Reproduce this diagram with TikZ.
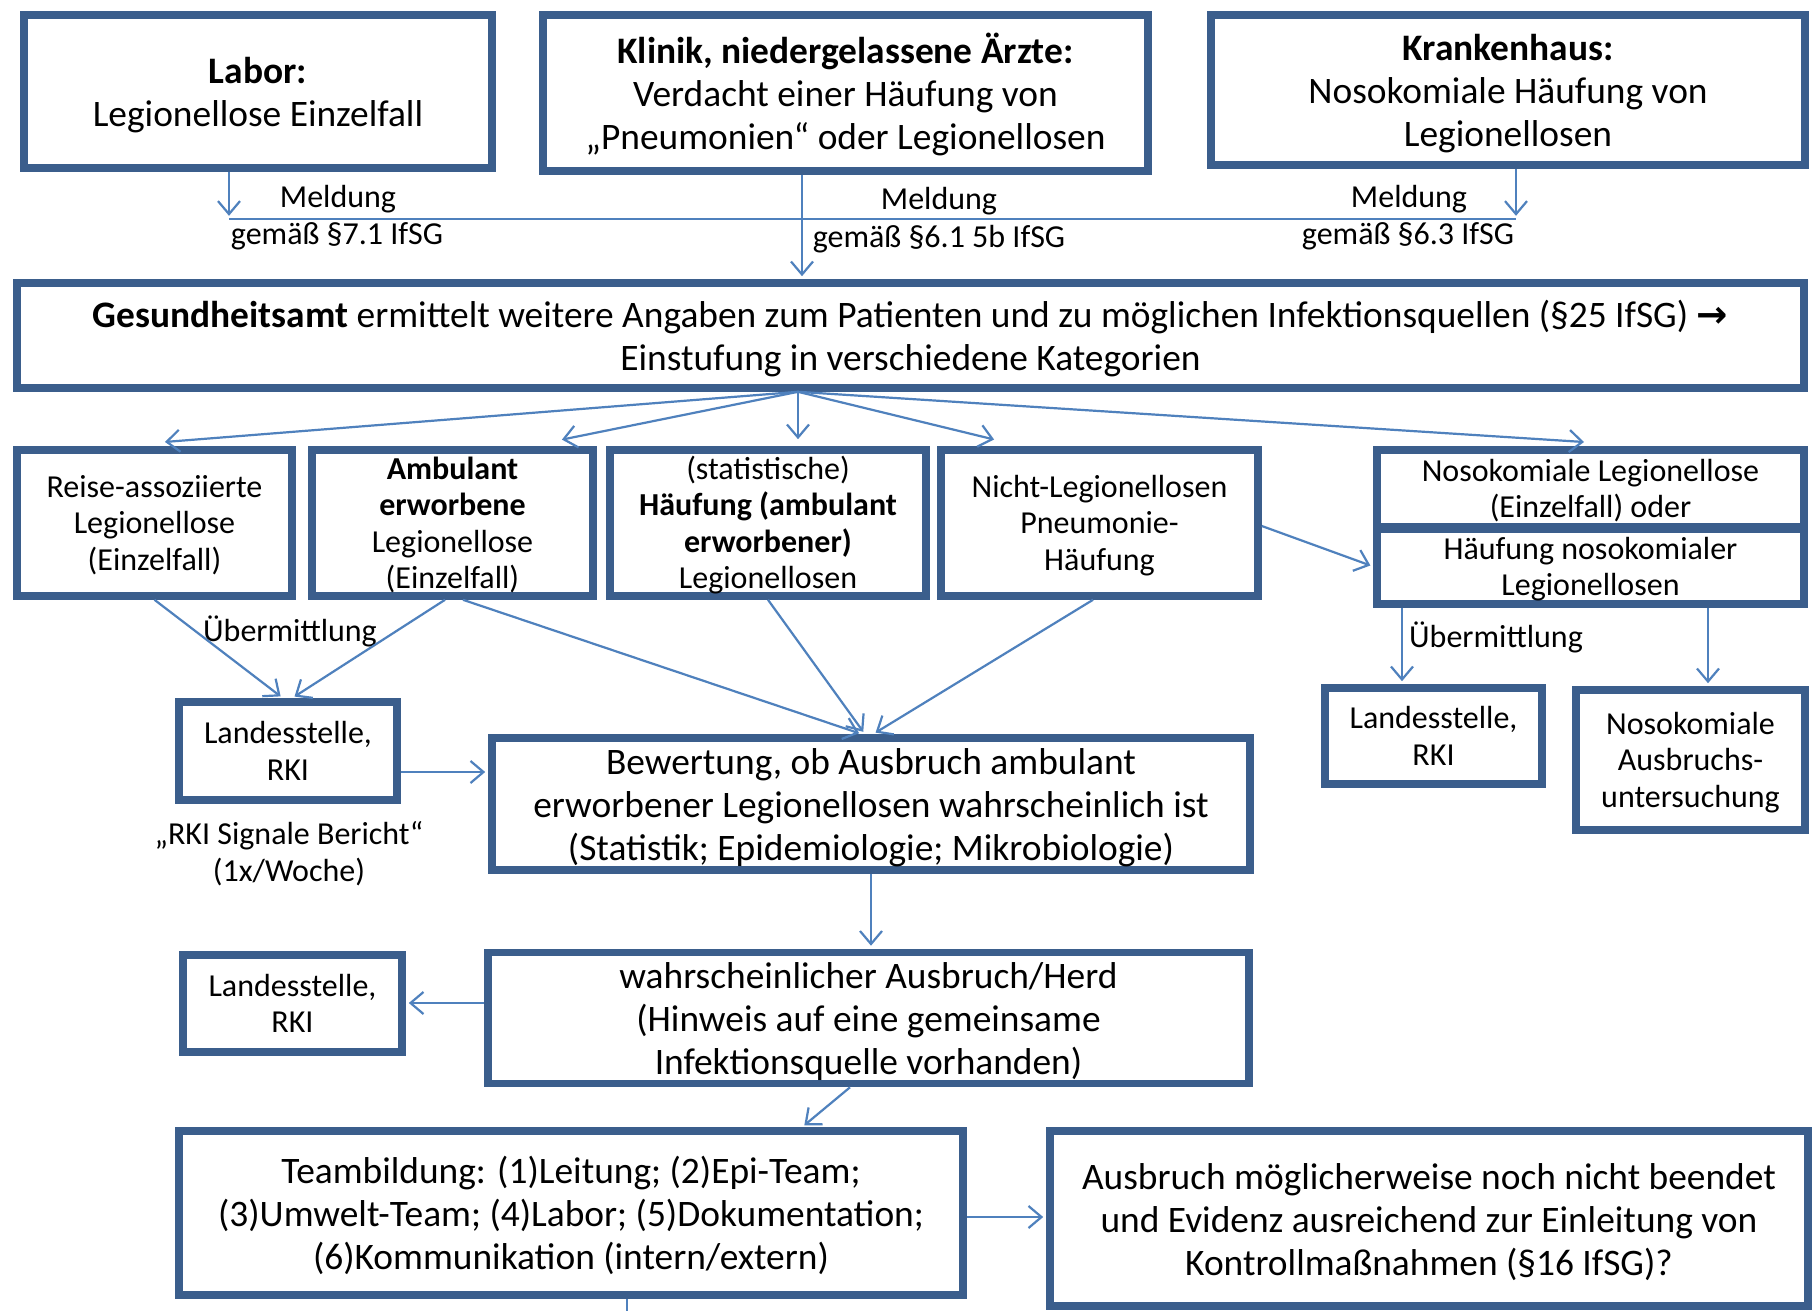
\documentclass[tikz,border=0pt]{standalone}
\usepackage{fontspec}
\setmainfont{Carlito}
\newfontfamily\arrowfont{DejaVu Sans}
\usetikzlibrary{arrows.meta,calc}
\definecolor{boxc}{HTML}{3B5E8C}
\definecolor{arrc}{HTML}{4F81BD}
\newcommand\fbig{\fontsize{18.7pt}{21.5pt}\selectfont}
\newcommand\fmed{\fontsize{16pt}{18.2pt}\selectfont}
\newcommand\BT{\rule{0pt}{18pt}}
\newcommand\BB{\rule[-4.5pt]{0pt}{4.5pt}}
\newcommand\MT{\rule{0pt}{14.5pt}}
\newcommand\MB{\rule[-3.7pt]{0pt}{3.7pt}}
\begin{document}
\begin{tikzpicture}[x=0.5pt,y=-0.5pt,
 base/.style={draw=boxc,line width=3.8pt,fill=white,inner sep=0pt,align=center},
 box/.style={base,font=\fbig},
 mbox/.style={base,font=\fmed},
 sz/.style 2 args={minimum width=#1*0.5pt,minimum height=#2*0.5pt},
 arr/.style={draw=arrc,line width=1.1pt,shorten >=1.5pt,-{Straight Barb[length=6.5pt,width=11pt]}},
 ln/.style={draw=arrc,line width=1.1pt},
 lbl/.style={font=\fmed,inner sep=0pt,align=center}]
\useasboundingbox[fill=white] (0,0) rectangle (1814,1311);
% boxes
\node[box,sz={468}{153}] (labor) at (258,91.5) {\BT\textbf{Labor:}\\Legionellose Einzelfall\BB};
\node[box,sz={605}{156}] (klinik) at (845.5,93) {\BT\textbf{Klinik, niedergelassene Ärzte:}\\Verdacht einer Häufung von\\„Pneumonien“ oder Legionellosen\BB};
\node[box,sz={594}{150}] (kh) at (1508,90) {\BT\textbf{Krankenhaus:}\\Nosokomiale Häufung von\\Legionellosen\BB};
\node[box,sz={1787}{105}] (ga) at (910.5,335.5) {\BT\textbf{Gesundheitsamt} ermittelt weitere Angaben zum Patienten und zu möglichen Infektionsquellen (§25 IfSG) {\arrowfont\bfseries →}\\Einstufung in verschiedene Kategorien\BB};
\node[mbox,sz={275}{146}] (reise) at (154.5,523) {\MT Reise-assoziierte\\Legionellose\\(Einzelfall)\MB};
\node[mbox,sz={281}{146}] (amb) at (452.5,523) {\MT\textbf{Ambulant}\\\textbf{erworbene}\\Legionellose\\(Einzelfall)\MB};
\node[mbox,sz={316}{146}] (stat) at (768,523) {\MT(statistische)\\\textbf{Häufung (ambulant}\\\textbf{erworbener)}\\Legionellosen\MB};
\node[mbox,sz={317}{146}] (nicht) at (1099.5,523) {\MT Nicht-Legionellosen\\Pneumonie-\\Häufung\MB};
\node[mbox,sz={427}{77}] (noso1) at (1590.5,488.5) {\MT Nosokomiale Legionellose\\(Einzelfall) oder\MB};
\node[mbox,sz={427}{75}] (noso2) at (1590.5,566.5) {\MT Häufung nosokomialer\\Legionellosen\MB};
\node[mbox,sz={218}{98}] (land1) at (288,751) {\MT Landesstelle,\\RKI\MB};
\node[box,sz={758}{132}] (bew) at (871,804) {\BT Bewertung, ob Ausbruch ambulant\\erworbener Legionellosen wahrscheinlich ist\\(Statistik; Epidemiologie; Mikrobiologie)\BB};
\node[mbox,sz={217}{96}] (land2) at (1433.5,736) {\MT Landesstelle,\\RKI\MB};
\node[mbox,sz={229}{140}] (nosoaus) at (1690.5,760) {\MT Nosokomiale\\Ausbruchs-\\untersuchung\MB};
\node[box,sz={761}{126}] (wahr) at (868.5,1018) {\BT wahrscheinlicher Ausbruch/Herd\\(Hinweis auf eine gemeinsame\\Infektionsquelle vorhanden)\BB};
\node[mbox,sz={219}{97}] (land3) at (292.5,1003.5) {\MT Landesstelle,\\RKI\MB};
\node[box,sz={784}{164}] (team) at (571,1213) {\BT Teambildung: (1)Leitung; (2)Epi-Team;\\(3)Umwelt-Team; (4)Labor; (5)Dokumentation;\\(6)Kommunikation (intern/extern)\BB};
\node[box,sz={758}{175}] (ausb) at (1429,1218.5) {\BT Ausbruch möglicherweise noch nicht beendet\\und Evidenz ausreichend zur Einleitung von\\Kontrollmaßnahmen (§16 IfSG)?\BB};
% labels
\node[lbl] (m1) at (338,197) {\MT Meldung\MB};
\node[lbl] (g1) at (337,234) {\MT gemäß §7.1 IfSG\MB};
\node[lbl] (m2) at (939,199) {\MT Meldung\MB};
\node[lbl] (g2) at (939,237) {\MT gemäß §6.1 5b IfSG\MB};
\node[lbl] (m3) at (1409,197) {\MT Meldung\MB};
\node[lbl] (g3) at (1408,234) {\MT gemäß §6.3 IfSG\MB};
\node[lbl] (u1) at (290,631) {\MT Übermittlung\MB};
\node[lbl] (u2) at (1496,637) {\MT Übermittlung\MB};
\node[lbl] (rki) at (289,852) {\MT„RKI Signale Bericht“\\(1x/Woche)\MB};
% Meldung connectors
\coordinate (lS) at ($(labor.south)+(-29,0)$);
\coordinate (mL) at ($(labor.south)+(-29,47)$);
\coordinate (hS) at ($(kh.south)+(8,0)$);
\coordinate (mR) at ($(kh.south)+(8,50)$);
\coordinate (kS) at ($(klinik.south)+(-43.5,0)$);
\draw[ln] (mL) -- (mR);
\draw[arr] (lS) -- (mL);
\draw[arr] (hS) -- (mR);
\draw[arr] (kS) -- (kS |- ga.north);
% fan from Gesundheitsamt
\coordinate (gf) at ($(ga.south)+(-112.5,0)$);
\draw[arr] (gf) -- ($(reise.north)+(7.5,-4)$);
\draw[arr] (gf) -- ($(amb.north)+(106.5,-6)$);
\draw[arr] (gf) -- ($(stat.north)+(30,-4)$);
\draw[arr] (gf) -- ($(nicht.north)+(-102.5,-6)$);
\draw[arr] (gf) -- ($(noso1.north)+(-3.5,-4)$);
\draw[arr] ($(nicht.east)+(0,3)$) -- (noso2.west);
% to Landesstelle 1 and Bewertung
\draw[arr] (reise.south) -- ($(land1.north)+(-5,0)$);
\draw[arr] ($(amb.south)+(-7.5,0)$) -- ($(land1.north)+(4,0)$);
\draw[arr] ($(amb.south)+(10.5,0)$) -- ($(bew.north)+(-9,0)$);
\draw[arr] (stat.south) -- ($(bew.north)+(-6,0)$);
\draw[arr] ($(nicht.south)+(-6.5,0)$) -- ($(bew.north)+(2,0)$);
\coordinate (l1E) at ($(land1.east)+(0,21)$);
\draw[arr] (l1E) -- (l1E -| bew.west);
% right side
\coordinate (n2a) at ($(noso2.south)+(-188.5,0)$);
\coordinate (n2b) at ($(noso2.south)+(117.5,0)$);
\draw[arr] (n2a) -- (n2a |- land2.north);
\draw[arr] (n2b) -- (n2b |- nosoaus.north);
% lower chain
\draw[arr] (bew.south) -- (bew.south |- wahr.north);
\coordinate (wW) at ($(wahr.west)+(0,-15)$);
\draw[arr] (wW) -- (wW -| land3.east);
\draw[arr] ($(wahr.south)+(-18.5,0)$) -- ($(team.north)+(231,0)$);
\coordinate (tE) at ($(team.east)+(0,4)$);
\draw[arr] (tE) -- (tE -| ausb.west);
\coordinate (tS) at ($(team.south)+(56,0)$);
\draw[ln] (tS) -- ++(0,40);
\end{tikzpicture}
\end{document}
